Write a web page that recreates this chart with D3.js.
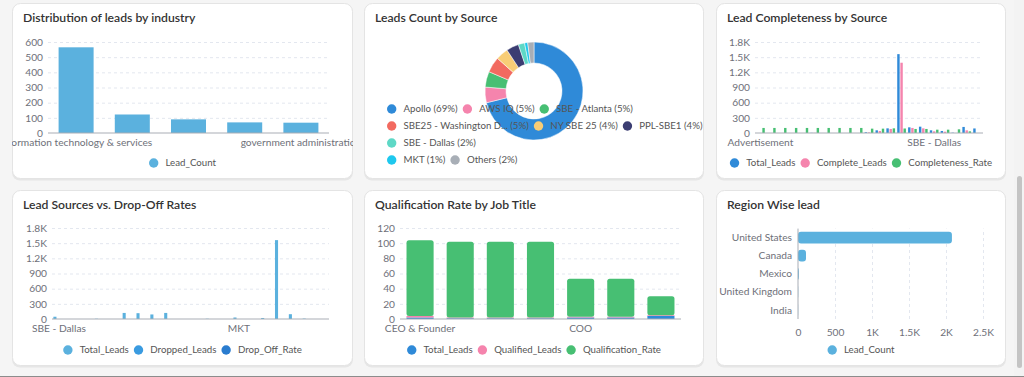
<!DOCTYPE html>
<html>
<head>
<meta charset="utf-8">
<script src="https://cdn.jsdelivr.net/npm/d3@7"></script>
<style>
  body { margin: 0; background: #f5f5f5; overflow: hidden; }
  svg text { font-family: Lato, "Open Sans", sans-serif; }
  .title { font-size: 12.2px; fill: #333; font-weight: 600; }
  .tick text, .cat-label { fill: #6e7079; font-size: 10.2px; }
  .legend-text { fill: #555; font-size: 9.7px; }
</style>
</head>
<body>
<svg id="page" width="1024" height="377"></svg>
<script>
// ---- data ----
var industryNames = ["information technology & services", "computer software", "marketing & advertising", "financial services", "government administration"];
var industryCounts = [565, 122, 90, 70, 68];

var sourceNames = ["Apollo", "AWS IQ", "SBE - Atlanta", "SBE25 - Washington DC", "NY SBE 25", "PPL-SBE1", "SBE - Dallas", "MKT", "Others"];
var sourceShares = [69, 5, 5, 5, 4, 4, 2, 1, 2];
var sourceLegendRows = [[0, 1, 2], [3, 4, 5], [6], [7, 8]];

var completeSources = ["Advertisement", "Cold Call", "Conference", "Email Campaign", "Employee Referral", "Event", "External Referral", "Facebook", "Google Ads", "LinkedIn", "MKT", "NY SBE 25", "PPL-SBE1", "Apollo", "AWS IQ", "SBE - Atlanta", "SBE - Dallas", "SBE25 - Washington DC", "Trade Show", "Webinar", "Website"];
var completeTotal = [0, 0, 0, 0, 0, 3, 0, 0, 0, 0, 15, 53, 92, 1560, 112, 125, 53, 40, 6, 120, 90];
var completeDone  = [0, 0, 0, 0, 0, 3, 0, 0, 0, 0, 12, 40, 80, 1390, 100, 92, 33, 26, 0, 53, 0];
var completeRate  = [100, 100, 100, 100, 100, 100, 100, 100, 100, 100, 86, 86, 92, 89, 80, 80, 66, 66, 73, 33, 0];

var dropSources = ["SBE - Dallas", "Cold Call", "Conference", "Email Campaign", "Event", "SBE - Atlanta", "NY SBE 25", "PPL-SBE1", "AWS IQ", "Facebook", "Google Ads", "LinkedIn", "Webinar", "MKT", "Trade Show", "Website", "Apollo", "SBE25 - Washington DC", "Employee Referral", "Others"];
var dropTotal   = [45, 0, 0, 5, 0, 120, 115, 90, 120, 0, 0, 5, 0, 30, 0, 20, 1560, 95, 8, 0];
var dropDropped = [0, 0, 0, 0, 0, 0, 0, 0, 0, 0, 0, 0, 0, 0, 0, 0, 0, 0, 0, 0];
var dropRate    = [0, 0, 0, 0, 0, 0, 0, 0, 0, 0, 0, 0, 0, 0, 0, 0, 0, 0, 0, 0];

var jobTitles = ["CEO & Founder", "Founder", "CEO", "Owner", "COO", "President", "CTO"];
var jobTotal = [2, 1, 1, 1, 2, 2, 4];
var jobQualified = [2, 1, 1, 1, 1, 1, 1];
var jobRate = [100, 100, 100, 100, 50, 50, 25];

var regions = ["United States", "Canada", "Mexico", "United Kingdom", "India"];
var regionCounts = [2080, 108, 12, 3, 2];

var lightBlue = "#5bb1de";
var pieColors = ["#2f8ad8", "#f584ad", "#47bf73", "#f26a60", "#f8cd76", "#3b3d72", "#5ed8c6", "#1ec8ee", "#a8aeb6"];

// ---- page ----
var svg = d3.select("#page");
var clipCount = 0;

function kFormat(d) {
    return d >= 1000 ? (d / 1000) + "K" : d;
}

function card(x, y, w, h, title) {
    var id = "clip" + (clipCount++);
    svg.append("clipPath").attr("id", id)
        .append("rect").attr("x", x).attr("y", y).attr("width", w).attr("height", h).attr("rx", 8);
    svg.append("rect")
        .attr("x", x).attr("y", y + 1.5).attr("width", w).attr("height", h)
        .attr("rx", 8).attr("fill", "#e6e6e6");
    svg.append("rect")
        .attr("x", x + 0.5).attr("y", y + 0.5).attr("width", w - 1).attr("height", h - 1)
        .attr("rx", 8).attr("fill", "#fff").attr("stroke", "#e4e4e4");
    var g = svg.append("g").attr("clip-path", "url(#" + id + ")");
    g.append("text").attr("class", "title")
        .attr("x", x + 11).attr("y", y + 19).text(title);
    return g;
}

function yAxisGrid(g, y, x0, x1, ticks, fmt) {
    var ax = g.append("g")
        .attr("transform", "translate(" + x0 + ",0)")
        .call(d3.axisLeft(y).tickValues(ticks).tickSize(-(x1 - x0)).tickPadding(5).tickFormat(fmt));
    ax.select(".domain").remove();
    ax.selectAll(".tick line").attr("stroke", "#e3e7ef").attr("stroke-dasharray", "3,3");
    ax.selectAll(".tick").filter(function(d) { return d === 0; }).select("line").remove();
    return ax;
}

function baseLine(g, x0, x1, yv) {
    g.append("line").attr("x1", x0).attr("x2", x1).attr("y1", yv).attr("y2", yv)
        .attr("stroke", "#a9adb5");
}

function catLabels(g, x, names, idx, yv) {
    g.selectAll(null).data(idx).enter().append("text")
        .attr("class", "cat-label")
        .attr("text-anchor", "middle")
        .attr("x", function(i) { return x(names[i]) + x.bandwidth() / 2; })
        .attr("y", yv)
        .text(function(i) { return names[i]; });
}

// one legend entry: dot, then text; returns the x after it
function legendItem(g, pos, yv, color, label) {
    g.append("circle").attr("cx", pos + 4.7).attr("cy", yv).attr("r", 4.7).attr("fill", color);
    var t = g.append("text").attr("class", "legend-text")
        .attr("x", pos + 16.5).attr("y", yv).attr("dy", "0.35em").text(label);
    return pos + 16.5 + t.node().getComputedTextLength() + 5;
}

function legend(g, items, cx, yv) {
    var lg = g.append("g");
    var pos = 0;
    items.forEach(function(it) {
        pos = legendItem(lg, pos, yv, it.color, it.name);
    });
    pos -= 5;
    lg.attr("transform", "translate(" + (cx - pos / 2) + ",0)");
}

function groupedBars(g, names, series, x, y) {
    var x1 = d3.scaleBand().domain(d3.range(series.length)).range([0, x.bandwidth()]).paddingInner(0.2308);
    series.forEach(function(s, si) {
        g.selectAll(null).data(s.values).enter().append("rect")
            .attr("x", function(d, i) { return x(names[i]) + x1(si); })
            .attr("width", x1.bandwidth())
            .attr("y", function(d) { return y(d); })
            .attr("height", function(d) { return y(0) - y(d); })
            .attr("fill", s.color);
    });
}

// ---- 1. Distribution of leads by industry ----
(function() {
    var g = card(12, 3, 341, 176, "Distribution of leads by industry");
    var x = d3.scaleBand().domain(industryNames).range([48, 329]).paddingInner(0.377).paddingOuter(0.1885);
    var y = d3.scaleLinear().domain([0, 600]).range([133, 42]);
    yAxisGrid(g, y, 48, 329, d3.range(0, 601, 100), d3.format("d"));
    g.selectAll(".bar").data(industryCounts).enter().append("rect")
        .attr("x", function(d, i) { return x(industryNames[i]); })
        .attr("width", x.bandwidth())
        .attr("y", function(d) { return y(d); })
        .attr("height", function(d) { return y(0) - y(d); })
        .attr("fill", lightBlue);
    baseLine(g, 48, 329, 133);
    catLabels(g, x, industryNames, [0, 4], 146);
    legend(g, [{name: "Lead_Count", color: lightBlue}], 182.5, 163);
})();

// ---- 2. Leads Count by Source ----
(function() {
    var g = card(364, 3, 340, 176, "Leads Count by Source");
    var arc = d3.arc().innerRadius(28).outerRadius(49);
    var pie = d3.pie().sort(null);
    g.append("g").attr("transform", "translate(534,91)")
        .selectAll("path").data(pie(sourceShares)).enter().append("path")
        .attr("d", arc)
        .attr("fill", function(d, i) { return pieColors[i]; })
        .attr("stroke", "#fff").attr("stroke-width", 0.5);
    sourceLegendRows.forEach(function(row, r) {
        var pos = 387;
        var yv = 109 + r * 17;
        row.forEach(function(i) {
            var nm = sourceNames[i].length > 20 ? sourceNames[i].slice(0, 20) + "..." : sourceNames[i];
            pos = legendItem(g, pos, yv, pieColors[i], nm + " (" + sourceShares[i] + "%)");
        });
    });
})();

// ---- 3. Lead Completeness by Source ----
(function() {
    var g = card(716, 3, 290, 176, "Lead Completeness by Source");
    var x = d3.scaleBand().domain(completeSources).range([755, 983]).paddingInner(0.2).paddingOuter(0.1);
    var y = d3.scaleLinear().domain([0, 1800]).range([133, 42]);
    yAxisGrid(g, y, 755, 983, d3.range(0, 1801, 300), kFormat);
    var series = [
        {name: "Total_Leads", values: completeTotal, color: "#2f8ad8"},
        {name: "Complete_Leads", values: completeDone, color: "#f584ad"},
        {name: "Completeness_Rate", values: completeRate, color: "#47bf73"}
    ];
    groupedBars(g, completeSources, series, x, y);
    baseLine(g, 755, 983, 133);
    catLabels(g, x, completeSources, [0, 16], 146);
    legend(g, series, 861, 163);
})();

// ---- 4. Lead Sources vs. Drop-Off Rates ----
(function() {
    var g = card(12, 190, 341, 176, "Lead Sources vs. Drop-Off Rates");
    var x = d3.scaleBand().domain(dropSources).range([52, 329]).paddingInner(0.2).paddingOuter(0.1);
    var y = d3.scaleLinear().domain([0, 1800]).range([319, 228]);
    yAxisGrid(g, y, 52, 329, d3.range(0, 1801, 300), kFormat);
    var series = [
        {name: "Total_Leads", values: dropTotal, color: lightBlue},
        {name: "Dropped_Leads", values: dropDropped, color: "#3a9be0"},
        {name: "Drop_Off_Rate", values: dropRate, color: "#2a7ccf"}
    ];
    groupedBars(g, dropSources, series, x, y);
    baseLine(g, 52, 329, 319);
    catLabels(g, x, dropSources, [0, 13], 332);
    legend(g, series, 182.5, 350);
})();

// ---- 5. Qualification Rate by Job Title ----
(function() {
    var g = card(364, 190, 340, 176, "Qualification Rate by Job Title");
    var x = d3.scaleBand().domain(jobTitles).range([400, 681]).paddingInner(0.325).paddingOuter(0.1625);
    var y = d3.scaleLinear().domain([0, 120]).range([319, 228]);
    yAxisGrid(g, y, 400, 681, d3.range(0, 121, 20), d3.format("d"));
    var keys = ["total", "qualified", "rate"];
    var colors = {total: "#2f8ad8", qualified: "#f584ad", rate: "#47bf73"};
    var rows = jobTitles.map(function(t, i) {
        return {title: t, total: jobTotal[i], qualified: jobQualified[i], rate: jobRate[i]};
    });
    var stack = d3.stack().keys(keys)(rows);
    stack.forEach(function(layer) {
        g.selectAll(null).data(layer).enter().append("rect")
            .attr("x", function(d) { return x(d.data.title); })
            .attr("width", x.bandwidth())
            .attr("y", function(d) { return y(d[1]); })
            .attr("height", function(d) { return y(d[0]) - y(d[1]); })
            .attr("rx", layer.key === "rate" ? 2.5 : 0)
            .attr("fill", colors[layer.key]);
    });
    baseLine(g, 400, 681, 319);
    catLabels(g, x, jobTitles, [0, 4], 332);
    legend(g, [
        {name: "Total_Leads", color: colors.total},
        {name: "Qualified_Leads", color: colors.qualified},
        {name: "Qualification_Rate", color: colors.rate}
    ], 534, 350);
})();

// ---- 6. Region Wise lead ----
(function() {
    var g = card(716, 190, 290, 176, "Region Wise lead");
    var x = d3.scaleLinear().domain([0, 2500]).range([798, 983]);
    var y = d3.scaleBand().domain(regions).range([228.6, 319]).paddingInner(0.35).paddingOuter(0.175);
    var ax = g.append("g")
        .attr("transform", "translate(0,319)")
        .call(d3.axisBottom(x).tickValues(d3.range(0, 2501, 500)).tickSize(-90.4).tickPadding(10).tickFormat(kFormat));
    ax.select(".domain").remove();
    ax.selectAll(".tick line").attr("stroke", "#e3e7ef").attr("stroke-dasharray", "3,3");
    ax.selectAll(".tick").filter(function(d) { return d === 0; }).select("line").remove();
    g.selectAll(".hbar").data(regionCounts).enter().append("rect")
        .attr("x", x(0))
        .attr("y", function(d, i) { return y(regions[i]); })
        .attr("height", y.bandwidth())
        .attr("width", function(d) { return x(d) - x(0); })
        .attr("rx", 3)
        .attr("fill", lightBlue);
    g.append("line").attr("x1", 798).attr("x2", 798).attr("y1", 228.6).attr("y2", 319).attr("stroke", "#a9adb5");
    g.selectAll(".rlabel").data(regions).enter().append("text")
        .attr("class", "cat-label")
        .attr("text-anchor", "end")
        .attr("x", 792)
        .attr("y", function(d) { return y(d) + y.bandwidth() / 2; })
        .attr("dy", "0.35em")
        .text(function(d) { return d; });
    legend(g, [{name: "Lead_Count", color: lightBlue}], 861, 350);
})();

// ---- scrollbar and bottom edge ----
svg.append("rect").attr("x", 1014).attr("y", 0).attr("width", 10).attr("height", 377).attr("fill", "#f3f3f3");
svg.append("rect").attr("x", 1017).attr("y", 176).attr("width", 5).attr("height", 192).attr("rx", 2.5).attr("fill", "#c4c4c4");
svg.append("line").attr("x1", 0).attr("x2", 1024).attr("y1", 376.5).attr("y2", 376.5).attr("stroke", "#8c8c8c");
</script>
</body>
</html>
